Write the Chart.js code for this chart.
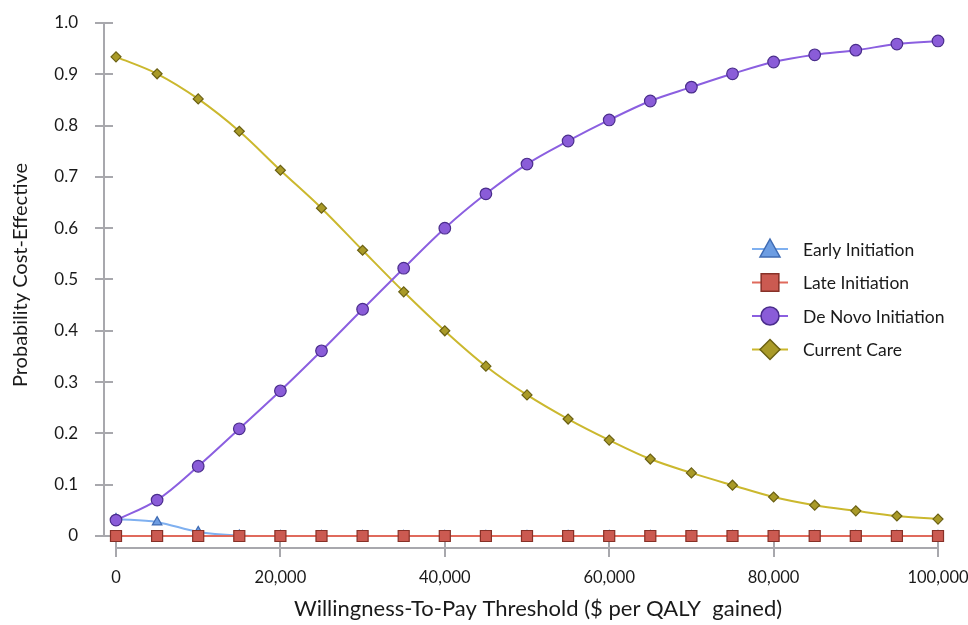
<!DOCTYPE html>
<html>
<head>
<script src="https://cdn.jsdelivr.net/npm/chart.js"></script>
<style>
    html, body { margin: 0; padding: 0; background: #ffffff; }
</style>
</head>
<body>
<canvas id="ceac" width="968" height="625"></canvas>
<script>
    // willingness-to-pay thresholds ($ per QALY gained)
    var thresholds = [0, 5000, 10000, 15000, 20000, 25000, 30000, 35000, 40000, 45000, 50000,
        55000, 60000, 65000, 70000, 75000, 80000, 85000, 90000, 95000, 100000];

    // probability cost-effective
    var earlyInitiation = [0.033, 0.027, 0.008, 0.001, 0, 0, 0, 0, 0, 0, 0,
        0, 0, 0, 0, 0, 0, 0, 0, 0, 0];
    var lateInitiation = [0, 0, 0, 0, 0, 0, 0, 0, 0, 0, 0,
        0, 0, 0, 0, 0, 0, 0, 0, 0, 0];
    var deNovoInitiation = [0.031, 0.070, 0.136, 0.209, 0.283, 0.361, 0.442, 0.522, 0.600, 0.667, 0.725,
        0.770, 0.811, 0.848, 0.875, 0.901, 0.924, 0.938, 0.947, 0.959, 0.965];
    var currentCare = [0.934, 0.901, 0.852, 0.789, 0.713, 0.639, 0.557, 0.476, 0.400, 0.331, 0.275,
        0.228, 0.187, 0.150, 0.123, 0.099, 0.076, 0.060, 0.049, 0.039, 0.033];

    var seriesNames = ['Early Initiation', 'Late Initiation', 'De Novo Initiation', 'Current Care'];
    var xTickValues = [0, 20000, 40000, 60000, 80000, 100000];
    var yTickValues = [0, 0.1, 0.2, 0.3, 0.4, 0.5, 0.6, 0.7, 0.8, 0.9, 1.0];
    var xTitle = 'Willingness-To-Pay Threshold ($ per QALY  gained)';
    var yTitle = 'Probability Cost-Effective';

    var FONT = 'Lato, "Open Sans", sans-serif';
    var TEXT = '#1a1a1a';
    var AXIS_GREY = '#a8a8ad';

    function toPoints(values) {
        return thresholds.map(function (t, i) {
            return { x: t, y: values[i] };
        });
    }

    var styles = [
        { line: '#7fb0f0', fill: '#6d9de2', edge: '#3f6bb3', shape: 'triangle', r: 5.5, lr: 10 },
        { line: '#e06a5c', fill: '#cb5a51', edge: '#873128', shape: 'rect', r: 7.8, lr: 12.5 },
        { line: '#8b5fe0', fill: '#8a5cd8', edge: '#4a2d8c', shape: 'circle', r: 5.8, lr: 9 },
        { line: '#cbb82e', fill: '#a99a28', edge: '#6b6114', shape: 'rectRot', r: 5, lr: 10 }
    ];
    var seriesValues = [earlyInitiation, lateInitiation, deNovoInitiation, currentCare];
    var drawOrder = [4, 1, 2, 3];

    var datasets = seriesNames.map(function (name, i) {
        var s = styles[i];
        return {
            label: name,
            data: toPoints(seriesValues[i]),
            borderColor: s.line,
            borderWidth: 2,
            backgroundColor: s.fill,
            pointStyle: s.shape,
            pointRadius: s.r,
            pointBorderColor: s.edge,
            pointBackgroundColor: s.fill,
            pointBorderWidth: 1.2,
            tension: 0.35,
            clip: false,
            order: drawOrder[i]
        };
    });

    // axis lines with ticks crossing them, as in the original
    var axisLines = {
        id: 'axisLines',
        beforeDatasetsDraw: function (chart) {
            var ctx = chart.ctx;
            var xs = chart.scales.x, ys = chart.scales.y;
            var ax = chart.chartArea.left;
            var ay = chart.chartArea.bottom;
            ctx.save();
            ctx.strokeStyle = AXIS_GREY;
            ctx.lineWidth = 2;
            ctx.beginPath();
            ctx.moveTo(ax, ys.getPixelForValue(1));
            ctx.lineTo(ax, ys.getPixelForValue(0));
            yTickValues.forEach(function (v) {
                var py = Math.round(ys.getPixelForValue(v));
                ctx.moveTo(ax - 9, py);
                ctx.lineTo(ax + 9, py);
            });
            ctx.moveTo(xs.getPixelForValue(0), ay);
            ctx.lineTo(xs.getPixelForValue(100000), ay);
            xTickValues.forEach(function (v) {
                var px = Math.round(xs.getPixelForValue(v));
                ctx.moveTo(px, ay - 7);
                ctx.lineTo(px, ay + 9);
            });
            ctx.stroke();

            // axis titles (the original sits them a little off centre)
            ctx.fillStyle = TEXT;
            ctx.textAlign = 'center';
            ctx.textBaseline = 'middle';
            ctx.font = '22px ' + FONT;
            ctx.fillText(xTitle, 538, 609);
            ctx.translate(21, 275);
            ctx.rotate(-Math.PI / 2);
            ctx.font = '20px ' + FONT;
            ctx.fillText(yTitle, 0, 0);
            ctx.restore();
        }
    };

    function marker(ctx, shape, x, y, r) {
        ctx.beginPath();
        if (shape === 'triangle') {
            ctx.moveTo(x, y - r);
            ctx.lineTo(x + r, y + r * 0.8);
            ctx.lineTo(x - r, y + r * 0.8);
            ctx.closePath();
        } else if (shape === 'rect') {
            var h = r * Math.SQRT1_2;
            ctx.rect(x - h, y - h, 2 * h, 2 * h);
        } else if (shape === 'circle') {
            ctx.arc(x, y, r, 0, Math.PI * 2);
        } else {
            ctx.moveTo(x, y - r);
            ctx.lineTo(x + r, y);
            ctx.lineTo(x, y + r);
            ctx.lineTo(x - r, y);
            ctx.closePath();
        }
        ctx.fill();
        ctx.stroke();
    }

    // legend sitting inside the plot, right of the crossing
    var sideLegend = {
        id: 'sideLegend',
        afterDatasetsDraw: function (chart) {
            var ctx = chart.ctx;
            var x0 = 752, x1 = 788, tx = 803, y0 = 249, step = 33.5;
            ctx.save();
            seriesNames.forEach(function (name, i) {
                var s = styles[i];
                var y = y0 + i * step;
                ctx.strokeStyle = s.line;
                ctx.lineWidth = 2;
                ctx.beginPath();
                ctx.moveTo(x0, y);
                ctx.lineTo(x1, y);
                ctx.stroke();
                ctx.fillStyle = s.fill;
                ctx.strokeStyle = s.edge;
                ctx.lineWidth = 1.5;
                marker(ctx, s.shape, (x0 + x1) / 2, y, s.lr);
                ctx.fillStyle = TEXT;
                ctx.font = '17.5px ' + FONT;
                ctx.textBaseline = 'middle';
                ctx.fillText(name, tx, y + 1);
            });
            ctx.restore();
        }
    };

    new Chart('ceac', {
        type: 'line',
        data: { datasets: datasets },
        plugins: [axisLines, sideLegend],
        options: {
            responsive: false,
            animation: false,
            devicePixelRatio: 1,
            layout: { padding: { left: 0, right: 30, top: 23, bottom: 0 } },
            plugins: {
                legend: { display: false },
                tooltip: { enabled: false }
            },
            scales: {
                x: {
                    type: 'linear',
                    min: -1460,
                    max: 100000,
                    grid: { display: false, drawTicks: false },
                    border: { display: false },
                    afterBuildTicks: function (scale) {
                        scale.ticks = xTickValues.map(function (v) { return { value: v }; });
                    },
                    afterFit: function (scale) {
                        scale.height = 77;
                        scale.paddingLeft = 0;
                        scale.paddingRight = 0;
                    },
                    ticks: {
                        padding: 20,
                        maxRotation: 0,
                        color: TEXT,
                        font: { family: FONT, size: 16.5 },
                        callback: function (v) { return v.toLocaleString('en-US'); }
                    }
                },
                y: {
                    min: -0.0234,
                    max: 1.0,
                    grid: { display: false, drawTicks: false },
                    border: { display: false },
                    afterBuildTicks: function (scale) {
                        scale.ticks = yTickValues.map(function (v) { return { value: v }; });
                    },
                    afterFit: function (scale) {
                        scale.width = 104;
                        scale.paddingTop = 0;
                        scale.paddingBottom = 0;
                    },
                    ticks: {
                        padding: 26,
                        color: TEXT,
                        font: { family: FONT, size: 17 },
                        callback: function (v) { return v === 0 ? '0' : v.toFixed(1); }
                    }
                }
            }
        }
    });
</script>
</body>
</html>
